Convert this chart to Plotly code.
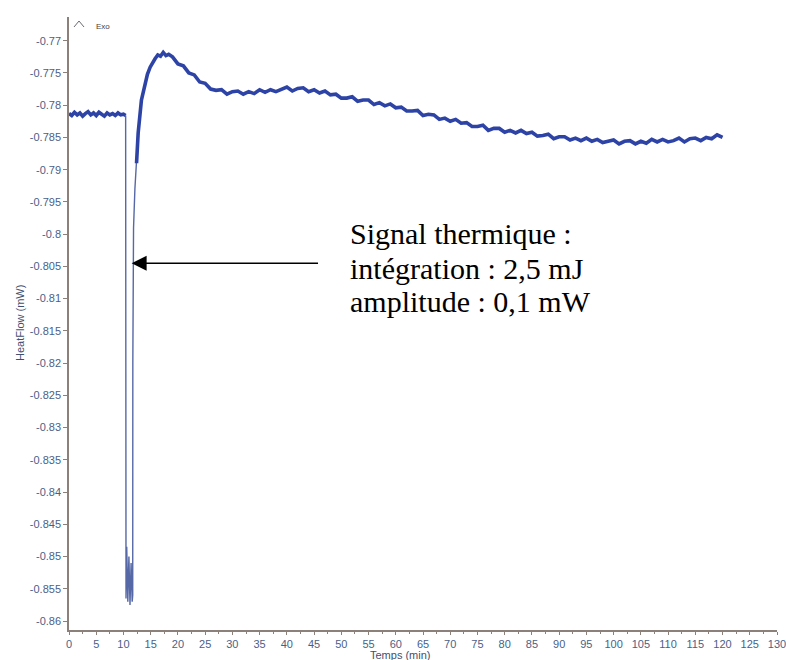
import plotly.graph_objects as go

# ---- data ----
time_min = [
    0.0, 0.5, 1.0, 1.5, 2.0, 2.5, 3.0, 3.5, 4.0, 4.5, 5.0, 5.5, 6.0, 6.5, 7.0, 7.5,
    8.0, 8.5, 9.0, 9.5, 10.0, 10.4,
    10.47, 10.6, 10.8, 11.0, 11.2, 11.4, 11.6, 11.7,
    11.72, 11.75, 11.85, 12.1, 12.4, 12.7, 13.3, 13.9, 14.4, 14.9, 15.4, 15.8,
    16.3, 16.8, 17.3, 17.8, 18.3,
    19, 20, 21, 22, 23, 24, 25, 26, 27, 28, 29, 30, 31, 32, 33, 34, 35, 36, 37, 38,
    39, 40, 41, 42, 43, 44, 45, 46, 47, 48, 49, 50, 51, 52, 53, 54, 55, 56, 57, 58,
    59, 60, 61, 62, 63, 64, 65, 66, 67, 68, 69, 70, 71, 72, 73, 74, 75, 76, 77, 78,
    79, 80, 81, 82, 83, 84, 85, 86, 87, 88, 89, 90, 91, 92, 93, 94, 95, 96, 97, 98,
    99, 100, 101, 102, 103, 104, 105, 106, 107, 108, 109, 110, 111, 112, 113, 114,
    115, 116, 117, 118, 119, 120,
]
heat_flow = [
    -0.7813, -0.7816, -0.7811, -0.7815, -0.7812, -0.7817, -0.7813, -0.7810, -0.7815, -0.7812,
    -0.7816, -0.7811, -0.7814, -0.7817, -0.7812, -0.7815, -0.7813, -0.7816, -0.7812, -0.7815,
    -0.7814, -0.7816,
    -0.8565, -0.8485, -0.8570, -0.8500, -0.8575, -0.8510, -0.8570, -0.8560,
    -0.8200, -0.8050, -0.7990, -0.7930, -0.7890, -0.7843, -0.7792, -0.7769, -0.7752, -0.7741,
    -0.7733, -0.7728, -0.7722, -0.7724, -0.7718, -0.7723, -0.7721,
    -0.7725, -0.7736, -0.7739, -0.7750, -0.7753, -0.7764, -0.7766, -0.7775, -0.7777, -0.7776,
    -0.7783, -0.7779, -0.7778, -0.7783, -0.7779, -0.7782, -0.7776, -0.7780, -0.7776, -0.7779,
    -0.7776, -0.7772, -0.7778, -0.7774, -0.7773, -0.7779, -0.7776, -0.7781, -0.7778, -0.7784,
    -0.7783, -0.7789, -0.7789, -0.7787, -0.7794, -0.7792, -0.7792, -0.7799, -0.7796, -0.7801,
    -0.7798, -0.7804, -0.7803, -0.7809, -0.7809, -0.7808, -0.7816, -0.7814, -0.7815, -0.7822,
    -0.7820, -0.7825, -0.7822, -0.7828, -0.7827, -0.7833, -0.7833, -0.7831, -0.7839, -0.7836,
    -0.7836, -0.7842, -0.7839, -0.7843, -0.7839, -0.7844, -0.7842, -0.7848, -0.7847, -0.7845,
    -0.7852, -0.7849, -0.7849, -0.7854, -0.7851, -0.7855, -0.7851, -0.7856, -0.7853, -0.7858,
    -0.7856, -0.7854, -0.7860, -0.7856, -0.7855, -0.7860, -0.7856, -0.7859, -0.7853, -0.7857,
    -0.7853, -0.7857, -0.7855, -0.7851, -0.7857, -0.7852, -0.7851, -0.7855, -0.7850, -0.7852,
    -0.7846, -0.7850,
]

x_tick_vals = [0, 5, 10, 15, 20, 25, 30, 35, 40, 45, 50, 55, 60, 65, 70, 75, 80, 85, 90,
               95, 100, 105, 110, 115, 120, 125, 130]
x_tick_text = ["0", "5", "10", "15", "20", "25", "30", "35", "40", "45", "50", "55", "60",
               "65", "70", "75", "80", "85", "90", "95", "100", "105", "110", "115", "120",
               "125", "130"]
y_tick_vals = [-0.77, -0.775, -0.78, -0.785, -0.79, -0.795, -0.8, -0.805, -0.81, -0.815,
               -0.82, -0.825, -0.83, -0.835, -0.84, -0.845, -0.85, -0.855, -0.86]
y_tick_text = ["-0.77", "-0.775", "-0.78", "-0.785", "-0.79", "-0.795", "-0.8", "-0.805",
               "-0.81", "-0.815", "-0.82", "-0.825", "-0.83", "-0.835", "-0.84", "-0.845",
               "-0.85", "-0.855", "-0.86"]

x_title = "Temps (min)"
y_title = "HeatFlow (mW)"
note_lines = ["Signal thermique :", "intégration : 2,5 mJ", "amplitude : 0,1 mW"]

# ---- layout geometry ----
W, H = 786, 660
ML, MR, MT, MB = 69, 9, 17, 30
PW, PH = W - ML - MR, H - MT - MB


def px(xpix):
    return (xpix - ML) / PW


def py(ypix):
    return (H - MB - ypix) / PH


tick_color = "#4a5f88"
axis_color = "#8c817a"
line_color = "#2d43a6"

# index split: thin vertical excursion (drop) vs. noisy thick signal
DROP_START, DROP_END = 21, 35

fig = go.Figure()
fig.add_trace(go.Scatter(
    x=time_min[DROP_START:DROP_END + 1], y=heat_flow[DROP_START:DROP_END + 1], mode="lines",
    line=dict(color="#5668a6", width=1.4),
    showlegend=False, hoverinfo="skip",
))
fig.add_trace(go.Scatter(
    x=time_min[:DROP_START + 1], y=heat_flow[:DROP_START + 1], mode="lines",
    line=dict(color=line_color, width=3.6),
    showlegend=False, hoverinfo="skip",
))
fig.add_trace(go.Scatter(
    x=time_min[DROP_END - 1:], y=heat_flow[DROP_END - 1:], mode="lines",
    line=dict(color=line_color, width=3.6),
    showlegend=False, hoverinfo="skip",
))

fig.update_layout(
    width=W, height=H,
    margin=dict(l=ML, r=MR, t=MT, b=MB, pad=0, autoexpand=False),
    paper_bgcolor="white", plot_bgcolor="white",
    font=dict(family="Liberation Sans, Arial, sans-serif", size=11, color=tick_color),
)
fig.update_xaxes(
    range=[0, 130], showgrid=False, zeroline=False, automargin=False,
    showline=True, linecolor=axis_color, linewidth=1.5,
    ticks="outside", ticklen=3, tickcolor=axis_color, tickwidth=1,
    tickvals=x_tick_vals, ticktext=x_tick_text, ticklabeloverflow="allow",
    tickfont=dict(size=11, color=tick_color),
    minor=dict(dtick=2.5, tick0=0, ticks="outside", ticklen=2, tickcolor=axis_color),
)
fig.update_yaxes(
    range=[-0.861396, -0.76632], showgrid=False, zeroline=False, automargin=False,
    showline=True, linecolor=axis_color, linewidth=1.5,
    ticks="outside", ticklen=4, tickcolor=axis_color, tickwidth=1,
    tickvals=y_tick_vals, ticktext=y_tick_text,
    tickfont=dict(size=11, color=tick_color),
)

# axis titles
fig.add_annotation(text=y_title, xref="paper", yref="paper", x=px(20), y=py(323),
                   showarrow=False, textangle=-90, xanchor="center", yanchor="middle",
                   font=dict(size=11, color="#3f4f70"))
fig.add_annotation(text=x_title, xref="paper", yref="paper", x=px(400), y=py(655),
                   showarrow=False, xanchor="center", yanchor="middle",
                   font=dict(size=11, color="#3f4f70"))

# Exo marker
fig.add_shape(type="path", xref="paper", yref="paper",
              path=f"M {px(74)} {py(27)} L {px(79)} {py(21)} L {px(84)} {py(27)}",
              line=dict(color="#6a6a70", width=1))
fig.add_annotation(text="Exo", xref="paper", yref="paper", x=px(94), y=py(26),
                   showarrow=False, xanchor="left", yanchor="middle",
                   font=dict(size=8, color="#444444"))

# arrow
fig.add_annotation(x=11.5, y=-0.8045, ax=46.0, ay=-0.8045, xref="x", yref="y",
                   axref="x", ayref="y", text="", showarrow=True,
                   arrowhead=2, arrowsize=2, arrowwidth=1.5, arrowcolor="black")
# note text, one annotation per line
for line_text, ycenter in zip(note_lines, [234, 268, 301]):
    fig.add_annotation(text=line_text, xref="paper", yref="paper", x=px(348), y=py(ycenter),
                       showarrow=False, xanchor="left", yanchor="middle", align="left",
                       font=dict(family="Liberation Serif, Times New Roman, serif", size=30,
                                 color="black"))

fig.write_html("out.html")
